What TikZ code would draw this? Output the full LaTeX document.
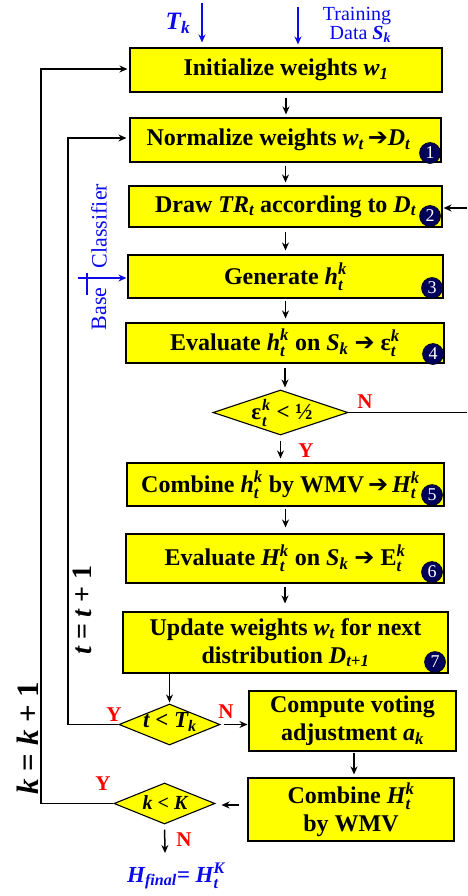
\documentclass[tikz,border=0pt]{standalone}
\usepackage{fontspec}
\usepackage{amsmath}
\setmainfont{Liberation Serif}
\newfontfamily\arrowfont{DejaVu Sans}
\usetikzlibrary{arrows.meta,shapes.geometric}
\definecolor{boxyellow}{RGB}{255,255,0}
\definecolor{navyc}{RGB}{0,0,90}
\definecolor{txtblue}{RGB}{10,10,235}
\newcommand{\vx}[1]{\text{\itshape #1}}
\newcommand{\harr}{{\arrowfont\bfseries ➔}}
\begin{document}
\begin{tikzpicture}[x=1pt,y=-1pt,
 box/.style={draw=black,line width=1.1pt,fill=boxyellow,inner sep=0pt,font=\fontsize{24}{28}\selectfont\bfseries,align=center},
 dia/.style={diamond,draw=black,line width=1.1pt,fill=boxyellow,inner sep=0pt},
 diatext/.style={font=\fontsize{23}{24}\selectfont\bfseries,inner sep=0pt},
 numc/.style={circle,fill=navyc,draw=black,line width=0.6pt,minimum size=21pt,inner sep=0pt,text=white,font=\fontsize{18}{18}\selectfont},
 arr/.style={line width=1.5pt,-{Stealth[length=8pt,width=7pt]}},
 ln/.style={line width=1.5pt},
 lbl/.style={text=red,font=\fontsize{21}{21}\selectfont\bfseries,inner sep=0pt},
 bluearr/.style={line width=1.6pt,draw=txtblue,-{Stealth[length=8pt,width=7pt]}},
 rottext/.style={rotate=90,font=\bfseries,inner sep=0pt}
]
\useasboundingbox (0,0) rectangle (467,896);

% boxes
\node[box,minimum width=312pt,minimum height=44pt] (init) at (286,70) {Initialize weights $\vx{w}_{\vx{1}}$};
\node[box,minimum width=311pt,minimum height=44pt] (norm) at (285.5,140) {Normalize weights $\vx{w}_{\vx{t}}$\,\harr$\vx{D}_{\vx{t}}$\hspace*{14pt}};
\node[box,minimum width=313pt,minimum height=41pt] (drw) at (285.5,206.5) {Draw $\vx{TR}_{\vx{t}}$ according to $\vx{D}_{\vx{t}}$};
\node[box,minimum width=315pt,minimum height=43pt] (gen) at (285.5,276.5) {Generate $\vx{h}^{\vx{k}}_{\vx{t}}$};
\node[box,minimum width=318pt,minimum height=40pt] (evh) at (285,343) {Evaluate $\vx{h}^{\vx{k}}_{\vx{t}}$ on $\vx{S}_{\vx{k}}$ \harr\ ε$^{\vx{k}}_{\vx{t}}$};
\node[box,minimum width=317pt,minimum height=43pt] (comb) at (285.5,484.5) {Combine $\vx{h}^{\vx{k}}_{\vx{t}}$ by WMV\,\harr\,$\vx{H}^{\vx{k}}_{\vx{t}}$\hspace*{10pt}};
\node[box,minimum width=318pt,minimum height=49pt] (evH) at (285,558.5) {Evaluate $\vx{H}^{\vx{k}}_{\vx{t}}$ on $\vx{S}_{\vx{k}}$ \harr\ E$^{\vx{k}}_{\vx{t}}$};
\node[box,minimum width=325pt,minimum height=61pt] (upd) at (285.5,642.5) {Update weights $\vx{w}_{\vx{t}}$ for next\\distribution $\vx{D}_{\vx{t+1}}$};
\node[box,minimum width=207pt,minimum height=60pt] (comp) at (352.5,721) {Compute voting\\adjustment $\vx{a}_{\vx{k}}$};
\node[box,minimum width=206pt,minimum height=63pt] (combH) at (351,809.5) {Combine $\vx{H}^{\vx{k}}_{\vx{t}}$\\by WMV};

% numbered circles
\node[numc] (c1) at (430,153) {1};
\node[numc] (c2) at (430,216) {2};
\node[numc] (c3) at (432,288) {3};
\node[numc] (c4) at (433,354) {4};
\node[numc] (c5) at (432,495) {5};
\node[numc] (c6) at (432,572) {6};
\node[numc] (c7) at (435,662) {7};

% diamonds
\node[dia,minimum width=135pt,minimum height=45pt] (d1) at (280.5,412.5) {};
\node[diatext] (d1t) at (282,413) {ε\kern1pt$^{\vx{k}}_{\vx{t}}$ < ½};
\node[dia,minimum width=101pt,minimum height=41pt] (d2) at (169.5,724.5) {};
\node[diatext] (d2t) at (170,722) {$\vx{t}$ < $\vx{T}_{\vx{k}}$};
\node[dia,minimum width=101pt,minimum height=41pt] (d3) at (164.5,803.5) {};
\node[diatext,font=\fontsize{20}{22}\selectfont\bfseries] (d3t) at (165,803) {\itshape k {\upshape<} K};

% top inputs
\node[text=txtblue,font=\fontsize{25}{25}\selectfont\bfseries\itshape,inner sep=0pt] (tk) at (178,23) {T$_{\vx{k}}$};
\coordinate (tkin) at (202,3);
\node[text=txtblue,font=\fontsize{20}{19}\selectfont,align=right,inner sep=0pt] (train) at (357,25) {Training\\Data {\bfseries\itshape S}$_{\vx{\bfseries k}}$};
\coordinate (trin) at (298,7);
\draw[bluearr,shorten >=5pt] (tkin) -- (tkin |- init.north);
\draw[bluearr,shorten >=3pt] (trin) -- (trin |- init.north);

% base classifier
\node[rottext,text=txtblue,font=\fontsize{22}{22}\selectfont] (clsf) at (99,226) {Classifier};
\node[rottext,text=txtblue,font=\fontsize{22}{22}\selectfont] (base) at (99,309) {Base};
\coordinate (bcin) at (78,278);
\coordinate (bct) at (87,273);
\coordinate (bcb) at (87,295);
\draw[line width=1.4pt,txtblue] (bct) -- (bcb);
\draw[bluearr,shorten >=1pt] (bcin) -- (bcin -| gen.west);

% right input to draw
\coordinate (rin) at (467,208);
\draw[arr,shorten >=1pt] (rin) -- (rin -| drw.east);

% vertical flow
\draw[arr,shorten <=5pt,shorten >=3pt] (init.south) -- (init.south |- norm.north);
\draw[arr,shorten <=3pt,shorten >=3pt] (norm.south) -- (norm.south |- drw.north);
\draw[arr,shorten <=4pt,shorten >=4pt] (drw.south) -- (drw.south |- gen.north);
\draw[arr,shorten <=2pt,shorten >=4pt] (gen.south) -- (gen.south |- evh.north);
\draw[arr,shorten <=4pt,shorten >=2pt] (evh.south) -- (evh.south |- d1.north);
\draw[arr,shorten <=5pt,shorten >=4pt] (d1.south) -- (d1.south |- comb.north);
\draw[arr,shorten <=2pt,shorten >=6pt] (comb.south) -- (comb.south |- evH.north);
\draw[arr,shorten <=3pt,shorten >=8pt] (evH.south) -- (evH.south |- upd.north);
\draw[arr,shorten >=1pt] (d2.north |- upd.south) -- (d2.north);
\draw[arr,shorten <=3pt,shorten >=1pt] (d2.east) -- (d2.east -| comp.west);
\coordinate (cmpx) at (354,0);
\draw[arr,shorten <=1pt,shorten >=3pt] (cmpx |- comp.south) -- (cmpx |- combH.north);
\draw[arr,shorten <=8pt,shorten >=6pt] (combH.west |- 0,805) -- (d3.east |- 0,805);
\coordinate (fin) at (165,853);
\draw[arr,shorten <=5pt] (d3.south) -- (fin);

% N branch of d1
\coordinate (nout) at (467,412.5);
\draw[ln] (d1.east) -- (nout);

% loops
\coordinate (tl) at (68,138);
\draw[arr,shorten >=3pt] (d2.west) -| (tl) -- (tl -| norm.west);
\coordinate (kl) at (41,69);
\draw[arr,shorten >=2pt] (d3.west) -| (kl) -- (kl -| init.west);

% loop labels
\node[rottext,font=\fontsize{28}{28}\selectfont\bfseries] (tinc) at (82,610) {\itshape t {\upshape =} t {\upshape + 1}};
\node[rottext,font=\fontsize{31}{31}\selectfont\bfseries] (kinc) at (28,738) {\itshape k {\upshape =} k {\upshape + 1}};

% Y / N labels
\node[lbl] (n1) at (365,402) {N};
\node[lbl] (y1) at (306,451) {Y};
\node[lbl] (y2) at (114,715) {Y};
\node[lbl] (n2) at (226,712) {N};
\node[lbl] (y3) at (103,784) {Y};
\node[lbl] (n3) at (184,840) {N};

% final
\node[text=txtblue,font=\fontsize{23}{23}\selectfont\bfseries\itshape,inner sep=0pt] (hf) at (176,876) {H$_{\vx{final}}$= H$^{\vx{K}}_{\vx{t}}$};
\end{tikzpicture}
\end{document}
